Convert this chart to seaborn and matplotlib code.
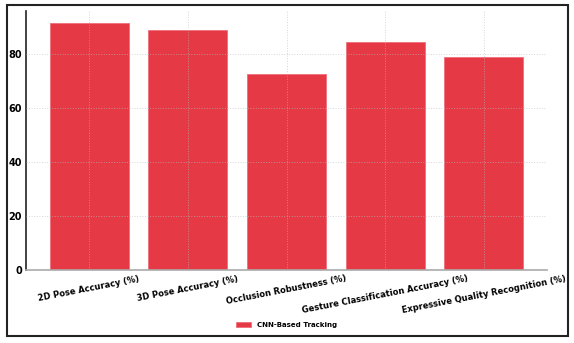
import matplotlib
matplotlib.use("Agg")
import matplotlib.pyplot as plt
import seaborn as sns
import pandas as pd
from matplotlib.patches import Rectangle

categories = ["2D Pose Accuracy (%)", "3D Pose Accuracy (%)", "Occlusion Robustness (%)",
              "Gesture Classification Accuracy (%)", "Expressive Quality Recognition (%)"]
values = [91.5, 89, 72.5, 84.5, 79]
series_name = "CNN-Based Tracking"

sns.set_theme(style="whitegrid")
plt.rcParams['font.family'] = ['DejaVu Sans']

df = pd.DataFrame({"Metric": categories, "Value": values, "Series": series_name})

fig = plt.figure(figsize=(5.74, 3.43), dpi=100)
ax = fig.add_axes([26/574, 1 - 270/343, (547-26)/574, (270-11)/343])

sns.barplot(data=df, x="Metric", y="Value", hue="Series", palette=["#E63946"],
            width=0.8, ax=ax, saturation=1, alpha=1, edgecolor="#ef6f7a", linewidth=0.6)

ax.set_xlim(-0.64, 4.64)
ax.set_axisbelow(False)
ax.grid(True, linestyle=":", color="#bbbbbb", linewidth=0.7, alpha=0.6)
ax.set_xlabel("")
ax.set_ylabel("")
ax.set_ylim(0, 96)
ax.set_yticks([0, 20, 40, 60, 80])
for s in ["top", "right"]:
    ax.spines[s].set_visible(False)
ax.spines["left"].set_color("#222222")
ax.spines["left"].set_linewidth(1.2)
ax.spines["bottom"].set_color("#aaaaaa")
ax.spines["bottom"].set_linewidth(1.2)
ax.tick_params(axis="both", length=0, pad=3, colors="black")
plt.setp(ax.get_xticklabels(), rotation=11, ha="center", fontsize=6, fontweight="bold", color="black")
plt.setp(ax.get_yticklabels(), fontsize=7, fontweight="bold", color="black")

leg = ax.legend(loc="center", bbox_to_anchor=(0.5, (270 - 325) / 259),
                frameon=False, fontsize=5, handlelength=2.2, handleheight=0.7)
for t in leg.get_texts():
    t.set_fontweight("bold")
    t.set_color("black")

fig.patches.append(Rectangle((7/574, 1 - 336/343), (568-7)/574, (336-5)/343,
                             transform=fig.transFigure, fill=False, edgecolor="#222222",
                             linewidth=1.5, zorder=10))

fig.savefig("out.png", dpi=100)
